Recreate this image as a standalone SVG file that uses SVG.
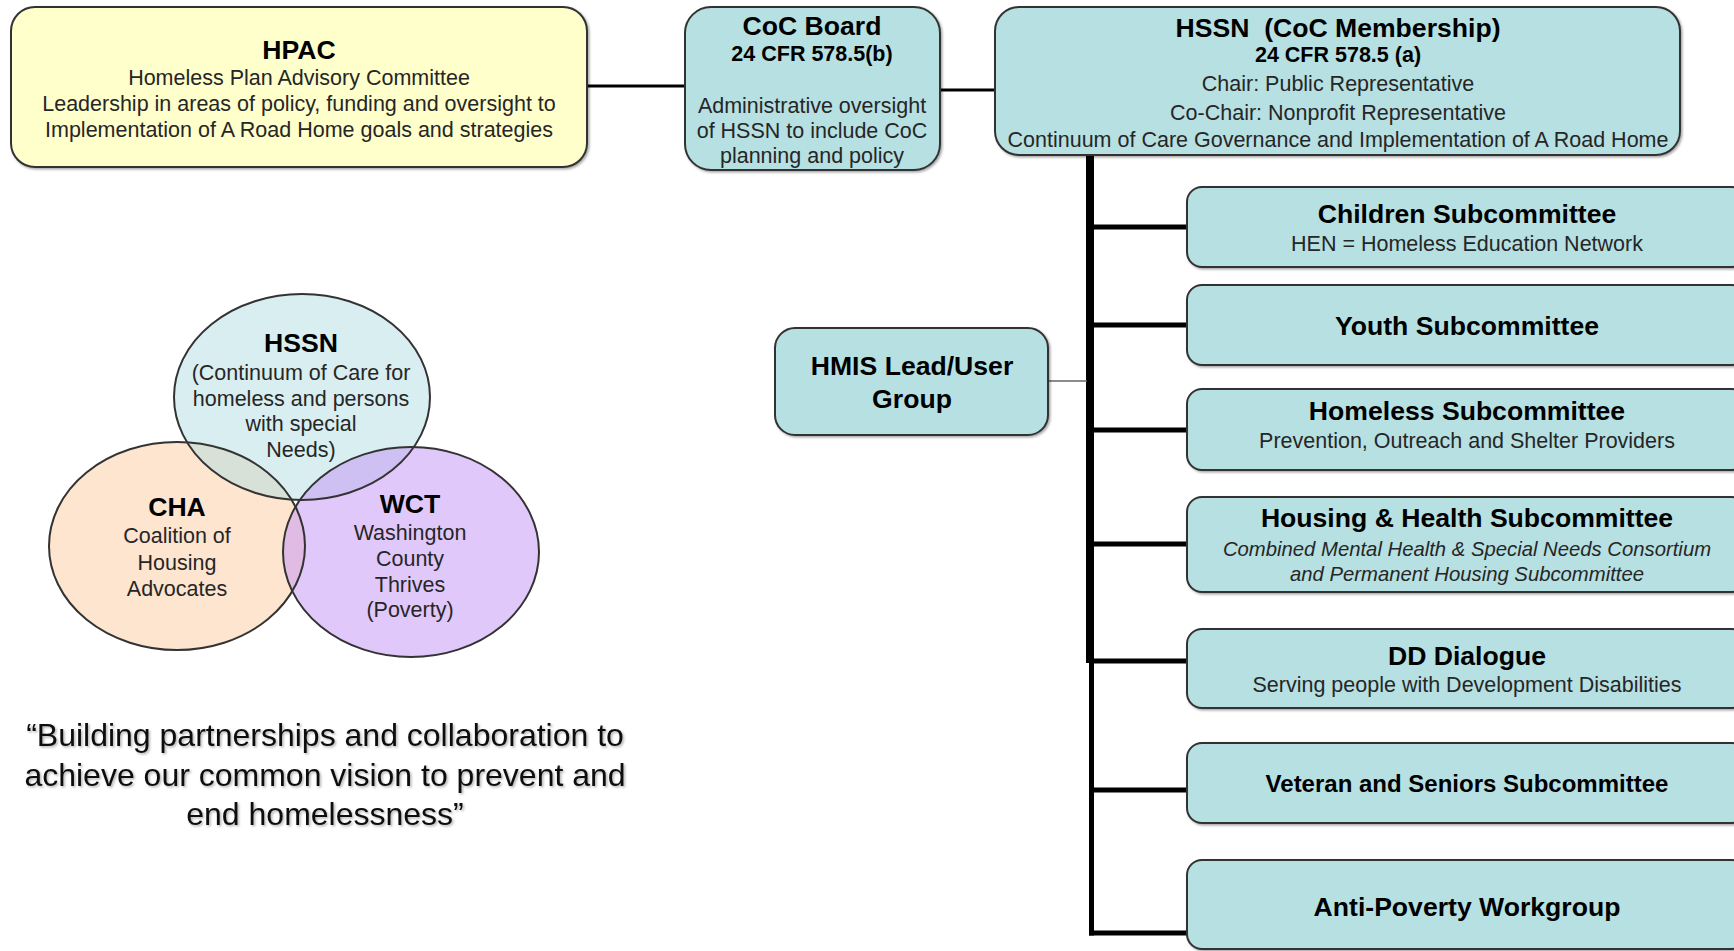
<svg xmlns="http://www.w3.org/2000/svg" width="1734" height="951" viewBox="0 0 1734 951">
  <defs>
    <filter id="sh" x="-5%" y="-5%" width="110%" height="115%">
      <feDropShadow dx="1.5" dy="1.5" stdDeviation="1" flood-color="#000" flood-opacity="0.35"/>
    </filter>
    <filter id="tsh" x="-5%" y="-20%" width="110%" height="140%">
      <feDropShadow dx="1.5" dy="1.5" stdDeviation="1.2" flood-color="#000" flood-opacity="0.3"/>
    </filter>
  </defs>
  <style>
    text { font-family: "Liberation Sans", Arial, sans-serif; text-anchor: middle; }
    .box { fill: #b6e0e2; stroke: #333; stroke-width: 2; }
    .yel { fill: #ffffcc; stroke: #333; stroke-width: 2; }
    .t { font-size: 26.6px; font-weight: bold; fill: #000; }
    .t24 { font-size: 24px; font-weight: bold; fill: #000; }
    .b { font-size: 21.5px; fill: #262626; }
    .bb { font-size: 21.5px; font-weight: bold; fill: #000; }
    .it { font-size: 20.3px; font-style: italic; fill: #262626; }
    .q { font-size: 32px; fill: #111; }
    .thick { stroke: #000; fill: none; }
    .vs { fill: none; stroke: #333; stroke-width: 2; }
  </style>

  <rect width="1734" height="951" fill="#fff"/>

  <g id="connectors">
    <line class="thick" x1="587" y1="86" x2="685" y2="86" stroke-width="3"/>
    <line class="thick" x1="940" y1="90" x2="995" y2="90" stroke-width="3"/>
    <line class="thick" x1="1090" y1="155" x2="1090" y2="663" stroke-width="8"/>
    <line class="thick" x1="1091.5" y1="660" x2="1091.5" y2="935.5" stroke-width="5"/>
    <line class="thick" x1="1090" y1="227" x2="1187" y2="227" stroke-width="5"/>
    <line class="thick" x1="1090" y1="325" x2="1187" y2="325" stroke-width="5"/>
    <line class="thick" x1="1090" y1="430" x2="1187" y2="430" stroke-width="5"/>
    <line class="thick" x1="1090" y1="544" x2="1187" y2="544" stroke-width="5"/>
    <line class="thick" x1="1090" y1="661" x2="1187" y2="661" stroke-width="5"/>
    <line class="thick" x1="1090" y1="790" x2="1187" y2="790" stroke-width="5"/>
    <line class="thick" x1="1089" y1="933" x2="1187" y2="933" stroke-width="5"/>
    <line x1="1048" y1="381" x2="1087" y2="381" stroke="#666" stroke-width="1.5"/>
  </g>

  <g id="hpac">
    <rect class="yel" x="11" y="7" width="576" height="160" rx="24" filter="url(#sh)"/>
    <text class="t" x="299" y="59">HPAC</text>
    <text class="b" x="299" y="85">Homeless Plan Advisory Committee</text>
    <text class="b" x="299" y="111">Leadership in areas of policy, funding and oversight to</text>
    <text class="b" x="299" y="137">Implementation of A Road Home goals and strategies</text>
  </g>

  <g id="coc-board">
    <rect class="box" x="685" y="7" width="255" height="163" rx="26" filter="url(#sh)"/>
    <text class="t" x="812" y="35">CoC Board</text>
    <text class="bb" x="812" y="61">24 CFR 578.5(b)</text>
    <text class="b" x="812" y="113">Administrative oversight</text>
    <text class="b" x="812" y="138">of HSSN to include CoC</text>
    <text class="b" x="812" y="163">planning and policy</text>
  </g>

  <g id="hssn">
    <rect class="box" x="995" y="7" width="685" height="148" rx="24" filter="url(#sh)"/>
    <text class="t" x="1338" y="37">HSSN&#160; (CoC Membership)</text>
    <text class="bb" x="1338" y="62">24 CFR 578.5 (a)</text>
    <text class="b" x="1338" y="91">Chair: Public Representative</text>
    <text class="b" x="1338" y="120">Co-Chair: Nonprofit Representative</text>
    <text class="b" x="1338" y="147">Continuum of Care Governance and Implementation of A Road Home</text>
  </g>

  <g id="hmis">
    <rect class="box" x="775" y="328" width="273" height="107" rx="20" filter="url(#sh)"/>
    <text class="t" x="912" y="375">HMIS Lead/User</text>
    <text class="t" x="912" y="408">Group</text>
  </g>

  <g id="children">
    <rect class="box" x="1187" y="187" width="560" height="80" rx="15" filter="url(#sh)"/>
    <text class="t" x="1467" y="223">Children Subcommittee</text>
    <text class="b" x="1467" y="251">HEN = Homeless Education Network</text>
  </g>

  <g id="youth">
    <rect class="box" x="1187" y="285" width="560" height="80" rx="15" filter="url(#sh)"/>
    <text class="t" x="1467" y="335">Youth Subcommittee</text>
  </g>

  <g id="homeless">
    <rect class="box" x="1187" y="389" width="560" height="81" rx="15" filter="url(#sh)"/>
    <text class="t" x="1467" y="420">Homeless Subcommittee</text>
    <text class="b" x="1467" y="448">Prevention, Outreach and Shelter Providers</text>
  </g>

  <g id="housing-health">
    <rect class="box" x="1187" y="497" width="560" height="95" rx="15" filter="url(#sh)"/>
    <text class="t" x="1467" y="527">Housing &amp; Health Subcommittee</text>
    <text class="it" x="1467" y="556">Combined Mental Health &amp; Special Needs Consortium</text>
    <text class="it" x="1467" y="581">and Permanent Housing Subcommittee</text>
  </g>

  <g id="dd-dialogue">
    <rect class="box" x="1187" y="629" width="560" height="79" rx="15" filter="url(#sh)"/>
    <text class="t" x="1467" y="665">DD Dialogue</text>
    <text class="b" x="1467" y="692">Serving people with Development Disabilities</text>
  </g>

  <g id="veteran">
    <rect class="box" x="1187" y="743" width="560" height="80" rx="15" filter="url(#sh)"/>
    <text class="t24" x="1467" y="792">Veteran and Seniors Subcommittee</text>
  </g>

  <g id="anti-poverty">
    <rect class="box" x="1187" y="860" width="560" height="89" rx="15" filter="url(#sh)"/>
    <text class="t" x="1467" y="916">Anti-Poverty Workgroup</text>
  </g>

  <g id="venn">
    <ellipse cx="177" cy="546" rx="128" ry="104" fill="#fde5cf"/>
    <ellipse cx="302" cy="397" rx="128" ry="103" fill="#b1dde1" fill-opacity="0.5"/>
    <ellipse cx="411" cy="552" rx="128" ry="105" fill="#c89bf5" fill-opacity="0.55"/>
    <ellipse class="vs" cx="177" cy="546" rx="128" ry="104"/>
    <ellipse class="vs" cx="302" cy="397" rx="128" ry="103"/>
    <ellipse class="vs" cx="411" cy="552" rx="128" ry="105"/>
    <g id="venn-hssn">
      <text class="t" x="301" y="352">HSSN</text>
      <text class="b" x="301" y="380">(Continuum of Care for</text>
      <text class="b" x="301" y="406">homeless and persons</text>
      <text class="b" x="301" y="431">with special</text>
      <text class="b" x="301" y="457">Needs)</text>
    </g>
    <g id="venn-cha">
      <text class="t" x="177" y="516">CHA</text>
      <text class="b" x="177" y="543">Coalition of</text>
      <text class="b" x="177" y="570">Housing</text>
      <text class="b" x="177" y="596">Advocates</text>
    </g>
    <g id="venn-wct">
      <text class="t" x="410" y="513">WCT</text>
      <text class="b" x="410" y="540">Washington</text>
      <text class="b" x="410" y="566">County</text>
      <text class="b" x="410" y="592">Thrives</text>
      <text class="b" x="410" y="617">(Poverty)</text>
    </g>
  </g>

  <g id="quote" filter="url(#tsh)">
    <text class="q" x="325" y="746">“Building partnerships and collaboration to</text>
    <text class="q" x="325" y="786">achieve our common vision to prevent and</text>
    <text class="q" x="325" y="825">end homelessness”</text>
  </g>
</svg>
